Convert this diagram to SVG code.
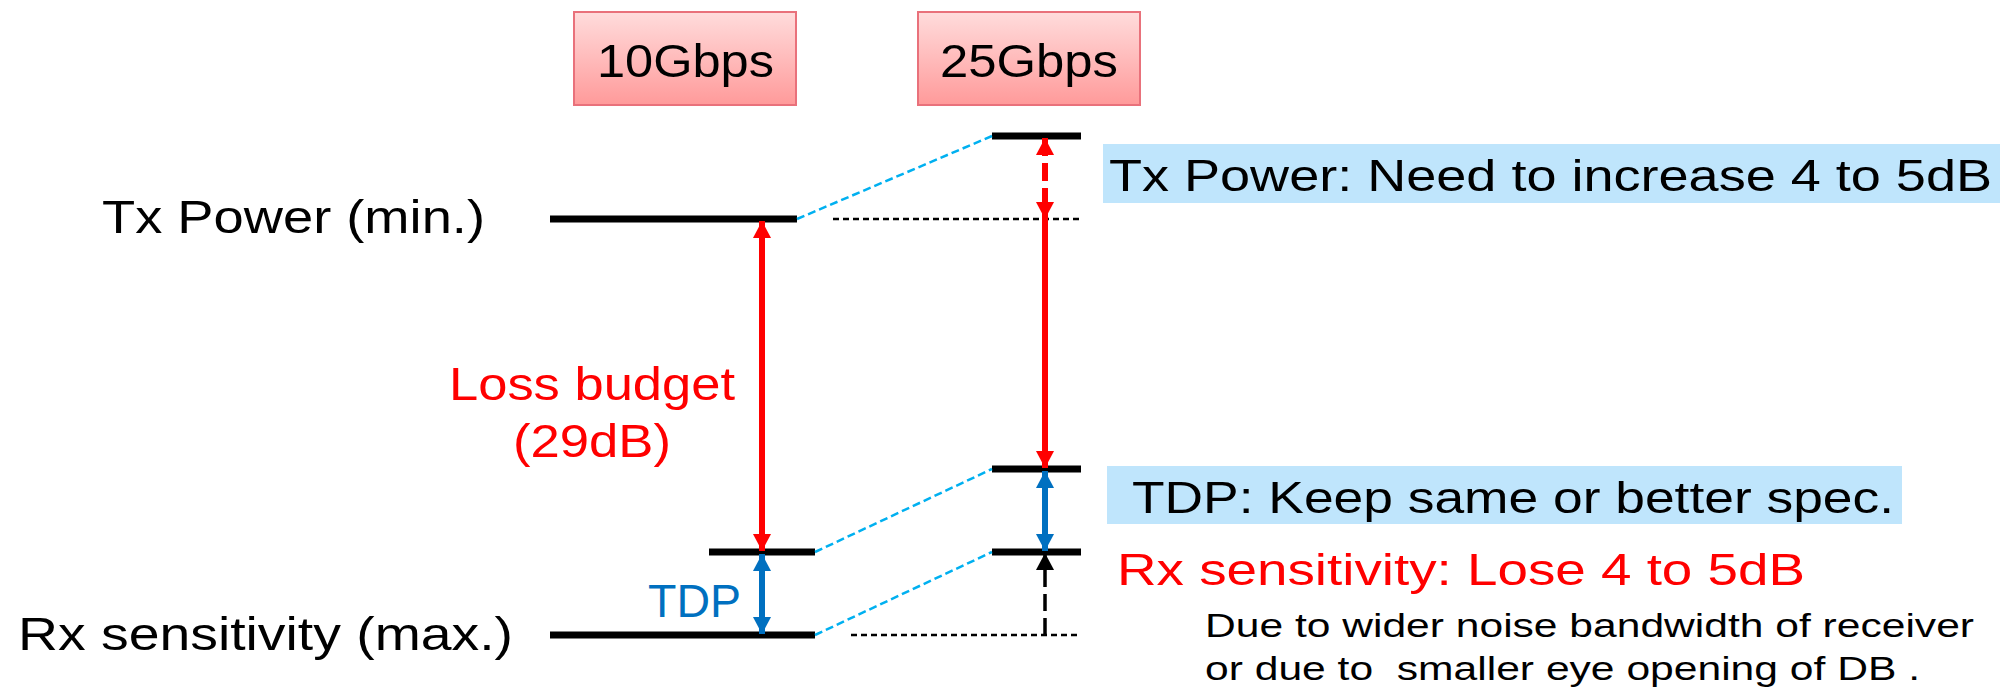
<svg xmlns="http://www.w3.org/2000/svg" width="2011" height="687" viewBox="0 0 2011 687">
<defs>
<linearGradient id="pink" x1="0" y1="0" x2="0" y2="1">
<stop offset="0" stop-color="#FFDCDC"/>
<stop offset="1" stop-color="#FF9A9A"/>
</linearGradient>
<marker id="ahRed" viewBox="0 0 18 18" markerUnits="userSpaceOnUse" markerWidth="18" markerHeight="18" refX="17" refY="9" orient="auto-start-reverse"><path d="M0,0 L17,9 L0,18 z" fill="#FF0000"/></marker>
<marker id="ahBlue" viewBox="0 0 18 18" markerUnits="userSpaceOnUse" markerWidth="18" markerHeight="18" refX="17" refY="9" orient="auto-start-reverse"><path d="M0,0 L17,9 L0,18 z" fill="#0070C0"/></marker>
<marker id="ahBlack" viewBox="0 0 18 18" markerUnits="userSpaceOnUse" markerWidth="18" markerHeight="18" refX="17" refY="9" orient="auto-start-reverse"><path d="M0,0 L17,9 L0,18 z" fill="#000000"/></marker>
</defs>
<style>
text{font-family:"Liberation Sans",Arial,sans-serif;}
.hdr{font-size:47px;fill:#000;}
.lbl{font-size:46px;fill:#000;}
.note{font-size:45px;fill:#000;}
.small{font-size:33px;fill:#000;white-space:pre;}
.red{fill:#FF0000;}
.blu{fill:#0070C0;}
.box{fill:url(#pink);stroke:#E9717B;stroke-width:2;}
.hl{fill:#BFE5FC;}
.lvl{stroke:#000;stroke-width:7;fill:none;}
.ref{stroke:#000;stroke-width:2.5;stroke-dasharray:6 4;fill:none;}
.link{stroke:#00B0F0;stroke-width:2.5;stroke-dasharray:8 4;fill:none;}
</style>

<g id="hdr10">
<rect class="box" x="574" y="12" width="222" height="93"/>
<text class="hdr" x="597" y="77" textLength="177" lengthAdjust="spacingAndGlyphs">10Gbps</text>
</g>
<g id="hdr25">
<rect class="box" x="918" y="12" width="222" height="93"/>
<text class="hdr" x="940" y="77" textLength="178" lengthAdjust="spacingAndGlyphs">25Gbps</text>
</g>

<g id="labels-left">
<text class="lbl" x="102" y="233" textLength="383" lengthAdjust="spacingAndGlyphs">Tx Power (min.)</text>
<text class="lbl" x="18" y="650" textLength="495" lengthAdjust="spacingAndGlyphs">Rx sensitivity (max.)</text>
</g>

<g id="levels-10g">
<line class="lvl" x1="550" y1="219" x2="797" y2="219"/>
<line class="lvl" x1="709" y1="552" x2="815" y2="552"/>
<line class="lvl" x1="550" y1="635" x2="815" y2="635"/>
</g>

<g id="levels-25g">
<line class="lvl" x1="992" y1="136" x2="1081" y2="136"/>
<line class="lvl" x1="992" y1="469" x2="1081" y2="469"/>
<line class="lvl" x1="992" y1="552" x2="1081" y2="552"/>
<line class="ref" x1="833" y1="219" x2="1081" y2="219"/>
<line class="ref" x1="851" y1="635" x2="1081" y2="635"/>
</g>

<g id="connectors">
<line class="link" x1="797" y1="219" x2="992" y2="136"/>
<line class="link" x1="815" y1="552" x2="992" y2="469"/>
<line class="link" x1="815" y1="635" x2="992" y2="552"/>
<line x1="762" y1="221" x2="762" y2="551" stroke="#FF0000" stroke-width="6" marker-start="url(#ahRed)" marker-end="url(#ahRed)"/>
<line x1="762" y1="554" x2="762" y2="634" stroke="#0070C0" stroke-width="6" marker-start="url(#ahBlue)" marker-end="url(#ahBlue)"/>
<line x1="1045" y1="138" x2="1045" y2="219" stroke="#FF0000" stroke-width="6" stroke-dasharray="18 7" marker-start="url(#ahRed)" marker-end="url(#ahRed)"/>
<line x1="1045" y1="219" x2="1045" y2="468" stroke="#FF0000" stroke-width="6" marker-end="url(#ahRed)"/>
<line x1="1045" y1="471" x2="1045" y2="551" stroke="#0070C0" stroke-width="6" marker-start="url(#ahBlue)" marker-end="url(#ahBlue)"/>
<line x1="1045" y1="635" x2="1045" y2="553" stroke="#000" stroke-width="3.5" stroke-dasharray="17 7" marker-end="url(#ahBlack)"/>
</g>

<g id="label-loss">
<text class="lbl red" x="592" y="400" text-anchor="middle" textLength="286" lengthAdjust="spacingAndGlyphs">Loss budget</text>
<text class="lbl red" x="592" y="457" text-anchor="middle" textLength="158" lengthAdjust="spacingAndGlyphs">(29dB)</text>
</g>
<g id="label-tdp">
<text class="lbl blu" x="648" y="617" textLength="93" lengthAdjust="spacingAndGlyphs">TDP</text>
</g>

<g id="note-tx">
<rect class="hl" x="1103" y="144" width="897" height="59"/>
<text class="note" x="1109" y="191" textLength="883" lengthAdjust="spacingAndGlyphs">Tx Power: Need to increase 4 to 5dB</text>
</g>
<g id="note-tdp">
<rect class="hl" x="1107" y="466" width="795" height="58"/>
<text class="note" x="1132" y="513" textLength="762" lengthAdjust="spacingAndGlyphs">TDP: Keep same or better spec.</text>
</g>
<g id="note-rx">
<text class="note red" x="1117" y="585" textLength="688" lengthAdjust="spacingAndGlyphs">Rx sensitivity: Lose 4 to 5dB</text>
<text class="small" x="1205" y="637" textLength="769" lengthAdjust="spacingAndGlyphs">Due to wider noise bandwidth of receiver</text>
<text class="small" x="1205" y="680" textLength="715" lengthAdjust="spacingAndGlyphs" xml:space="preserve">or due to  smaller eye opening of DB .</text>
</g>
</svg>
